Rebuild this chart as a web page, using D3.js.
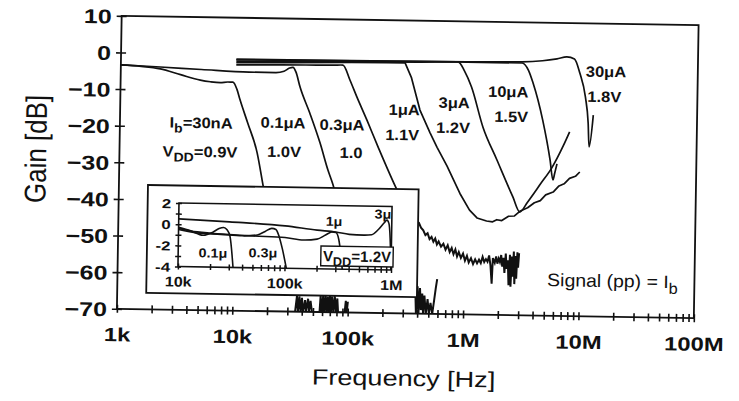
<!DOCTYPE html>
<html>
<head>
<meta charset="utf-8">
<script src="https://cdn.jsdelivr.net/npm/d3@7/dist/d3.min.js"></script>
<style>
  html, body { margin: 0; padding: 0; background: #fff; }
  svg { display: block; }
  text { font-family: "Liberation Sans", Arial, Helvetica, sans-serif; fill: #111; }
</style>
</head>
<body>
<svg id="chart" width="739" height="401"></svg>
<script>
// ---------- axes ----------
const xTickValues = [1e3, 1e4, 1e5, 1e6, 1e7, 1e8];
const xTickLabels = ["1k", "10k", "100k", "1M", "10M", "100M"];
const yTickValues = [10, 0, -10, -20, -30, -40, -50, -60, -70];

// ---------- main curves: [frequency Hz, gain dB] ----------
const gain30nA = [[1e3,-3.4],[1.5e3,-3.7],[2.2e3,-4.3],[3.3e3,-5.8],[4.9e3,-7.2],[6e3,-7.6],[7.3e3,-7.8],[8.5e3,-7.6],[9.4e3,-7.6],[10.2e3,-9.5],[10.9e3,-12.4],[12.8e3,-18.7],[15.6e3,-26.8],[17.7e3,-35.5],[20e3,-44],[25e3,-55],[30e3,-63]];
const gain100nA = [[1e3,-3.4],[2.2e3,-3.8],[5e3,-4.3],[13e3,-4.8],[22e3,-4.8],[26e3,-4.4],[29e3,-3.5],[31e3,-3.3],[33e3,-4.6],[35.9e3,-8.6],[44e3,-15.7],[54.5e3,-23.8],[64.4e3,-31.2],[71.6e3,-35.2],[85e3,-44],[100e3,-52]];
const gain300nA = [[1e4,-2.9],[2e4,-2.7],[4e4,-2.6],[7e4,-2.5],[8.4e4,-2.45],[9.7e4,-6.5],[1.12e5,-11.1],[1.38e5,-17.4],[1.74e5,-24.7],[2.57e5,-36.3],[3.2e5,-42],[3.8e5,-47]];
const gain1uA = [[1e4,-2.3],[3e4,-2.0],[1e5,-1.7],[2e5,-1.6],[2.9e5,-1.6],[3.3e5,-5.5],[3.96e5,-14.4],[4.87e5,-20.5],[5.64e5,-24.5],[6.91e5,-29.5],[9.03e5,-37],[1.1e6,-41.5],[1.28e6,-43.6],[1.55e6,-44.4],[1.75e6,-44.6],[1.9e6,-44.0],[2.1e6,-44.2],[2.4e6,-43.0],[2.7e6,-42.9],[3.0e6,-41.6],[3.5e6,-40.6],[4e6,-39.2],[4.5e6,-38.6],[5e6,-37.0],[5.8e6,-36.2],[6.5e6,-34.5],[7.2e6,-33.9],[8e6,-32.4],[9e6,-31.8],[9.8e6,-30.6]];
const gain3uA = [[1e4,-1.9],[1e5,-1.5],[4e5,-1.3],[8.35e5,-1.1],[9.5e5,-3.5],[1.1e6,-7.9],[1.4e6,-18.8],[1.87e6,-27.7],[2.6e6,-37.7],[3e6,-41.8],[3.5e6,-39],[4.5e6,-34],[5.6e6,-29.6],[7e6,-23.5],[7.9e6,-19.7]];
const gain10uA = [[1e4,-1.5],[1e5,-1.3],[1e6,-1.1],[3e6,-1.1],[3.4e6,-3],[3.75e6,-6.5],[4.6e6,-16.6],[5.4e6,-27.5],[5.75e6,-32.9],[5.95e6,-31],[6.2e6,-28.5]];
const gain30uA = [[1e4,-1.3],[1e5,-1.2],[1e6,-1.0],[3e6,-0.8],[4.5e6,-0.4],[6e6,0.2],[7.3e6,0.75],[8.5e6,0.2],[9.5e6,-3.6],[1.07e7,-10.1],[1.14e7,-17.2],[1.17e7,-23.7],[1.26e7,-15]];

// measured noise floors
const floorLow = [[3.5e4,-70],[3.62e4,-65.6],[3.7e4,-70],[3.8e4,-65.8],[3.9e4,-70],[4.0e4,-66.2],[4.1e4,-70],[4.26e4,-66.8],[4.35e4,-70],[4.52e4,-66.4],[4.62e4,-70],[4.75e4,-67],[4.9e4,-70],[5.7e4,-70],[5.8e4,-65.5],[5.95e4,-70],[6.1e4,-65.6],[6.25e4,-70],[6.4e4,-65.4],[6.55e4,-70],[6.7e4,-65.8],[6.85e4,-70],[7.0e4,-65.5],[7.15e4,-70],[7.3e4,-65.7],[7.5e4,-70],[7.7e4,-65.6],[7.9e4,-70],[8.1e4,-66.2],[8.25e4,-70],[9.4e4,-70],[9.6e4,-66.8],[9.8e4,-70],[1.0e5,-67]];
const floorMid = [[3.8e5,-61],[3.9e5,-70],[4.0e5,-62.5],[4.1e5,-70],[4.2e5,-63],[4.3e5,-69],[4.4e5,-64.5],[4.5e5,-70],[4.6e5,-65],[4.75e5,-70],[4.9e5,-66],[5.05e5,-70],[5.2e5,-67],[5.4e5,-70],[5.6e5,-66],[5.75e5,-63],[5.9e5,-60.5]];
const floorHigh = [[4.0e5,-45.0],[4.2e5,-46.5],[4.4e5,-47.2],[4.6e5,-48.5],[4.8e5,-48.0],[5.0e5,-49.6],[5.2e5,-49.0],[5.4e5,-50.3],[5.6e5,-49.4],[5.8e5,-51.0],[6.0e5,-50.2],[6.3e5,-51.6],[6.6e5,-50.8],[6.9e5,-52.4],[7.2e5,-51.2],[7.5e5,-53.0],[7.8e5,-51.9],[8.1e5,-53.6],[8.4e5,-52.3],[8.7e5,-54.2],[9.0e5,-53.0],[9.4e5,-54.6],[9.8e5,-53.4],[1.02e6,-55.3],[1.06e6,-54.0],[1.1e6,-55.8],[1.15e6,-54.6],[1.2e6,-56.2],[1.25e6,-54.9],[1.3e6,-56.0],[1.35e6,-55.0],[1.4e6,-55.9],[1.45e6,-54.2],[1.5e6,-55.6],[1.55e6,-54.8],[1.6e6,-55.5],[1.65e6,-53.8],[1.7e6,-56.5],[1.75e6,-61.5],[1.78e6,-54.5],[1.85e6,-55.8],[1.9e6,-54.0],[1.95e6,-56.0],[2.0e6,-54.6],[2.05e6,-55.5],[2.1e6,-53.6],[2.15e6,-56.8],[2.2e6,-54.4],[2.25e6,-58.5],[2.3e6,-53.2],[2.35e6,-57.4],[2.4e6,-55.0],[2.45e6,-61.8],[2.5e6,-53.5],[2.55e6,-62.2],[2.6e6,-54.0],[2.65e6,-59.5],[2.7e6,-52.6],[2.75e6,-61.5],[2.8e6,-53.8],[2.85e6,-60.0],[2.9e6,-52.8],[2.95e6,-57.0],[3.0e6,-53.0]];

// ---------- inset (VDD = 1.2 V): [frequency Hz, gain dB] ----------
const insetXTicks = [1e4, 1e5, 1e6];
const insetXLabels = ["10k", "100k", "1M"];
const insetYTicks = [2, 0, -2, -4];
const inset100nA = [[1e4,-0.3],[1.3e4,-0.6],[1.7e4,-1.0],[2.1e4,-0.7],[2.4e4,-0.35],[2.65e4,-0.25],[2.85e4,-0.45],[3.05e4,-1.1],[3.3e4,-4.2]];
const inset300nA = [[1e4,-0.5],[1.5e4,-0.8],[2.5e4,-0.9],[4e4,-1.0],[5.5e4,-0.9],[6.5e4,-0.55],[7.5e4,-0.25],[8.2e4,-0.35],[8.8e4,-1.0],[9.5e4,-2.2],[1.05e5,-4.2]];
const inset1uA = [[1e4,-0.4],[1.5e4,-0.7],[3e4,-0.9],[5e4,-1.0],[1e5,-1.1],[1.5e5,-1.3],[2e5,-1.2],[2.4e5,-0.8],[2.75e5,-0.5],[3.0e5,-0.55],[3.2e5,-1.2],[3.35e5,-2.5],[3.5e5,-4.2]];
const inset3uA = [[1e4,0.5],[3e4,0.3],[1e5,0],[2e5,-0.35],[3e5,-0.5],[4e5,-0.7],[5.5e5,-0.75],[6.5e5,-0.7],[7.5e5,-0.2],[8.5e5,0.45],[9e5,0.7],[9.4e5,0.4],[9.7e5,-1],[1e6,-4.2]];

// ---------- layout ----------
const frame = { left: 119.25, right: 696.25, top: 20.5, bottom: 313.5 };
const insetBox = { left: 148.3, right: 419, top: 189.2, bottom: 297 };
const insetFrame = { left: 179.6, right: 392.7, top: 206.7, bottom: 270.3 };
const ink = "#111";

const x = d3.scaleLog().domain([1e3, 1e8]).range([frame.left, frame.right]);
const y = d3.scaleLinear().domain([-70, 10]).range([frame.bottom, frame.top]);
const xi = d3.scaleLog().domain([1e4, 1e6]).range([insetFrame.left, insetFrame.right]);
const yi = d3.scaleLinear().domain([-4, 2]).range([insetFrame.bottom, insetFrame.top]);

const svg = d3.select("#chart");
svg.append("rect").attr("width", 739).attr("height", 401).attr("fill", "#fff");
// the whole figure sits at a slight clockwise angle
const fig = svg.append("g").attr("transform", "rotate(0.93, 408, 167)");

const defs = svg.append("defs");
defs.append("clipPath").attr("id", "plotClip").append("rect")
  .attr("x", frame.left).attr("y", frame.top)
  .attr("width", frame.right - frame.left).attr("height", frame.bottom - frame.top);
defs.append("clipPath").attr("id", "insetClip").append("rect")
  .attr("x", insetFrame.left).attr("y", insetFrame.top - 4)
  .attr("width", insetFrame.right - insetFrame.left + 1).attr("height", insetFrame.bottom - insetFrame.top + 4);

// text with optional subscripts, stretched horizontally by sx
function richText(parent, px, py, parts, size, weight, sx, anchor) {
  const t = parent.append("text")
    .attr("transform", `translate(${px},${py}) scale(${sx},1)`)
    .attr("text-anchor", anchor || "middle")
    .style("font-size", size + "px")
    .style("font-weight", weight);
  let down = false;
  const shift = size * 0.32;
  parts.forEach(p => {
    const s = t.append("tspan").text(p.t);
    if (p.sub) {
      s.style("font-size", (size * 0.85) + "px");
      if (!down) { s.attr("dy", shift); down = true; }
    } else if (down) {
      s.attr("dy", -shift); down = false;
    }
  });
  return t;
}

// ---------- main axes ----------
const minorX = [];
for (let d = 3; d < 8; d++) for (let m = 1; m < 10; m++) minorX.push(m * Math.pow(10, d));
minorX.push(1e8);

const xAxisOut = d3.axisBottom(x).tickValues(minorX).tickSizeInner(4).tickSizeOuter(0).tickPadding(15)
  .tickFormat(v => { const i = xTickValues.findIndex(t => Math.abs(t - v) / t < 1e-6); return i >= 0 ? xTickLabels[i] : ""; });
const gx = fig.append("g").attr("transform", `translate(0,${frame.bottom})`).call(xAxisOut);
fig.append("g").attr("transform", `translate(0,${frame.bottom})`)
  .call(d3.axisBottom(x).tickValues(minorX).tickSizeInner(-4).tickSizeOuter(0).tickFormat(""));

const yAxisOut = d3.axisLeft(y).tickValues(yTickValues).tickSizeInner(5).tickSizeOuter(0).tickPadding(3);
const gy = fig.append("g").attr("transform", `translate(${frame.left},0)`).call(yAxisOut);
fig.append("g").attr("transform", `translate(${frame.left},0)`)
  .call(d3.axisLeft(y).tickValues(yTickValues).tickSizeInner(-5).tickSizeOuter(0).tickFormat(""));

fig.selectAll(".domain").remove();
fig.selectAll(".tick line").attr("stroke", ink).attr("stroke-width", 1.6);
gx.selectAll("text").style("font-size", "19px").style("font-weight", "bold")
  .attr("fill", ink).attr("transform", "scale(1.25,1)");
gy.selectAll("text").style("font-size", "20px").style("font-weight", "bold")
  .attr("fill", ink).attr("dy", "0.36em").attr("transform", "scale(1.25,1)");

// frame
fig.append("rect")
  .attr("x", frame.left).attr("y", frame.top)
  .attr("width", frame.right - frame.left).attr("height", frame.bottom - frame.top)
  .attr("fill", "none").attr("stroke", ink).attr("stroke-width", 1.8);

// axis titles
richText(fig, 407, 386, [{ t: "Frequency [Hz]" }], 22, "normal", 1.23, "middle");
fig.append("text")
  .attr("transform", "translate(46,155) scale(1.15,1) rotate(-90)")
  .attr("text-anchor", "middle")
  .style("font-size", "26px")
  .text("Gain [dB]");

// ---------- main curves ----------
const smooth = d3.line().x(d => x(d[0])).y(d => y(d[1])).curve(d3.curveMonotoneX);
const jagged = d3.line().x(d => x(d[0])).y(d => y(d[1]));
const plot = fig.append("g").attr("clip-path", "url(#plotClip)");

[gain30nA, gain100nA, gain300nA, gain3uA, gain10uA, gain30uA].forEach(s => {
  plot.append("path").attr("d", smooth(s)).attr("fill", "none")
    .attr("stroke", ink).attr("stroke-width", 1.7).attr("stroke-linejoin", "round");
});
plot.append("path").attr("d", jagged(gain1uA)).attr("fill", "none")
  .attr("stroke", ink).attr("stroke-width", 1.7).attr("stroke-linejoin", "round");
[floorLow, floorMid, floorHigh].forEach(s => {
  plot.append("path").attr("d", jagged(s)).attr("fill", "none")
    .attr("stroke", ink).attr("stroke-width", 2).attr("stroke-linejoin", "miter");
});

// curve annotations (bias current / supply)
const noteSize = 15, noteSx = 1.1;
const notes = [
  { f: 5.05e3, g: -20.3, parts: [{ t: "I" }, { t: "b", sub: true }, { t: "=30nA" }] },
  { f: 4.99e3, g: -28.2, parts: [{ t: "V" }, { t: "DD", sub: true }, { t: "=0.9V" }] },
  { f: 25.9e3, g: -19.9, parts: [{ t: "0.1\u03bcA" }] },
  { f: 26.7e3, g: -27.8, parts: [{ t: "1.0V" }] },
  { f: 84.1e3, g: -20.2, parts: [{ t: "0.3\u03bcA" }] },
  { f: 101.6e3, g: -27.8, parts: [{ t: "1.0" }] },
  { f: 289e3, g: -15.8, parts: [{ t: "1\u03bcA" }] },
  { f: 280e3, g: -22.7, parts: [{ t: "1.1V" }] },
  { f: 782e3, g: -13.7, parts: [{ t: "3\u03bcA" }] },
  { f: 771e3, g: -20.5, parts: [{ t: "1.2V" }] },
  { f: 2.29e6, g: -10.45, parts: [{ t: "10\u03bcA" }] },
  { f: 2.45e6, g: -17.25, parts: [{ t: "1.5V" }] },
  { f: 16.0e6, g: -4.55, parts: [{ t: "30\u03bcA" }] },
  { f: 15.6e6, g: -11.4, parts: [{ t: "1.8V" }] }
];
notes.forEach(n => richText(fig, x(n.f), y(n.g), n.parts, noteSize, "bold", noteSx, "middle"));
richText(fig, x(5.3e6), y(-61.9), [{ t: "Signal (pp) = I" }, { t: "b", sub: true }], 18, "normal", 1.08, "start");

// ---------- inset ----------
const inset = fig.append("g");
inset.append("rect")
  .attr("x", insetBox.left).attr("y", insetBox.top)
  .attr("width", insetBox.right - insetBox.left).attr("height", insetBox.bottom - insetBox.top)
  .attr("fill", "#fff").attr("stroke", ink).attr("stroke-width", 1.8);

const minorXi = [];
for (let d = 4; d < 6; d++) for (let m = 1; m < 10; m++) minorXi.push(m * Math.pow(10, d));
minorXi.push(1e6);
const minorYi = [2, 1, 0, -1, -2, -3, -4];

const gxi = inset.append("g").attr("transform", `translate(0,${insetFrame.bottom})`)
  .call(d3.axisBottom(xi).tickValues(minorXi).tickSizeInner(3).tickSizeOuter(0).tickPadding(7)
    .tickFormat(v => { const i = insetXTicks.findIndex(t => Math.abs(t - v) / t < 1e-6); return i >= 0 ? insetXLabels[i] : ""; }));
inset.append("g").attr("transform", `translate(0,${insetFrame.bottom})`)
  .call(d3.axisBottom(xi).tickValues(minorXi).tickSizeInner(-3).tickSizeOuter(0).tickFormat(""));
const gyi = inset.append("g").attr("transform", `translate(${insetFrame.left},0)`)
  .call(d3.axisLeft(yi).tickValues(minorYi).tickSizeInner(3).tickSizeOuter(0).tickPadding(3)
    .tickFormat(v => insetYTicks.includes(v) ? String(v) : ""));
inset.append("g").attr("transform", `translate(${insetFrame.left},0)`)
  .call(d3.axisLeft(yi).tickValues(minorYi).tickSizeInner(-3).tickSizeOuter(0).tickFormat(""));
inset.selectAll(".domain").remove();
inset.selectAll(".tick line").attr("stroke", ink).attr("stroke-width", 1.5);
gxi.selectAll("text").style("font-size", "14px").style("font-weight", "bold").attr("fill", ink)
  .attr("transform", "scale(1.15,1)");
gyi.selectAll("text").style("font-size", "13px").style("font-weight", "bold").attr("fill", ink)
  .attr("dy", "0.36em").attr("transform", "scale(1.3,1)");

inset.append("rect")
  .attr("x", insetFrame.left).attr("y", insetFrame.top)
  .attr("width", insetFrame.right - insetFrame.left).attr("height", insetFrame.bottom - insetFrame.top)
  .attr("fill", "none").attr("stroke", ink).attr("stroke-width", 1.6);

const lineI = d3.line().x(d => xi(d[0])).y(d => yi(d[1])).curve(d3.curveMonotoneX);
const insetPlot = inset.append("g").attr("clip-path", "url(#insetClip)");
[inset100nA, inset300nA, inset1uA, inset3uA].forEach(s => {
  insetPlot.append("path").attr("d", lineI(s)).attr("fill", "none")
    .attr("stroke", ink).attr("stroke-width", 1.6).attr("stroke-linejoin", "round");
});

const insetNotes = [
  { f: 21.2e3, g: -2.67, t: "0.1\u03bc" },
  { f: 62.5e3, g: -2.58, t: "0.3\u03bc" },
  { f: 287e3, g: 0.5, t: "1\u03bc" },
  { f: 824e3, g: 1.26, t: "3\u03bc" }
];
insetNotes.forEach(n => richText(inset, xi(n.f), yi(n.g) + 4.5, [{ t: n.t }], 13, "bold", 1.1, "middle"));

// supply label box inside the inset
inset.append("rect")
  .attr("x", 322.3).attr("y", 247.4).attr("width", 72.3).attr("height", 19.8)
  .attr("fill", "#fff").attr("stroke", ink).attr("stroke-width", 1.4);
richText(inset, 358.5, 262.5, [{ t: "V" }, { t: "DD", sub: true }, { t: "=1.2V" }], 15, "bold", 1.0, "middle");
</script>
</body>
</html>
